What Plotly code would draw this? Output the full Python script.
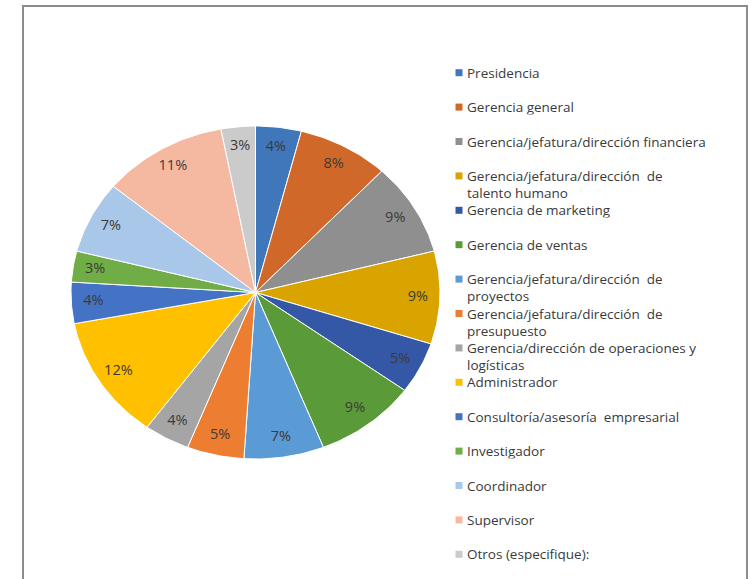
import numpy as np
import plotly.graph_objects as go

# Share of respondents by job position (percent)
categories = [
    "Presidencia",
    "Gerencia general",
    "Gerencia/jefatura/dirección financiera",
    "Gerencia/jefatura/dirección de talento humano",
    "Gerencia de marketing",
    "Gerencia de ventas",
    "Gerencia/jefatura/dirección de proyectos",
    "Gerencia/jefatura/dirección de presupuesto",
    "Gerencia/dirección de operaciones y logísticas",
    "Administrador",
    "Consultoría/asesoría empresarial",
    "Investigador",
    "Coordinador",
    "Supervisor",
    "Otros (especifique):",
]
percentages = [4, 8, 9, 9, 5, 9, 7, 5, 4, 12, 4, 3, 7, 11, 3]

# Legend text, with the line breaks used for the long entries
legend_text = [
    "Presidencia",
    "Gerencia general",
    "Gerencia/jefatura/dirección financiera",
    "Gerencia/jefatura/dirección  de<br>talento humano",
    "Gerencia de marketing",
    "Gerencia de ventas",
    "Gerencia/jefatura/dirección  de<br>proyectos",
    "Gerencia/jefatura/dirección  de<br>presupuesto",
    "Gerencia/dirección de operaciones y<br>logísticas",
    "Administrador",
    "Consultoría/asesoría  empresarial",
    "Investigador",
    "Coordinador",
    "Supervisor",
    "Otros (especifique):",
]

slice_colors = [
    "#3F77BA", "#D0682A", "#8F8F8F", "#D9A300", "#3458A6",
    "#5B9A38", "#5B9BD5", "#ED7D31", "#A5A5A5", "#FFC000",
    "#4472C4", "#70AD47", "#A9C7E9", "#F5B9A1", "#CBCBCB",
]

W, H = 751, 579
FONT = "Open Sans"
TEXT_COLOR = "#3A3A3A"
LEGEND_SIZE = 13.5

fig = go.Figure()

# Pie slices, clockwise from 12 o'clock, drawn as filled polygons
values = np.array(percentages, dtype=float)
fractions = values / values.sum()
ends = np.cumsum(fractions)
starts = ends - fractions
label_x, label_y = [], []
for i, (f0, f1) in enumerate(zip(starts, ends)):
    n = max(int((f1 - f0) * 400), 4)
    theta = 2 * np.pi * np.linspace(f0, f1, n)
    xs = np.concatenate([[0.0], np.sin(theta), [0.0]])
    ys = np.concatenate([[0.0], np.cos(theta), [0.0]])
    fig.add_trace(go.Scatter(
        x=xs, y=ys, mode="lines", fill="toself",
        fillcolor=slice_colors[i],
        line=dict(color="white", width=1),
        hoverinfo="text", text=f"{categories[i]}: {percentages[i]}%",
        showlegend=False, xaxis="x", yaxis="y",
    ))
    mid = 2 * np.pi * (f0 + f1) / 2
    label_x.append(0.88 * np.sin(mid))
    label_y.append(0.88 * np.cos(mid))

fig.add_trace(go.Scatter(
    x=label_x, y=label_y, mode="text",
    text=[f"{v}%" for v in percentages],
    textfont=dict(family=FONT, size=14.5, color=TEXT_COLOR),
    hoverinfo="skip", showlegend=False, xaxis="x", yaxis="y",
))

# Legend: colour squares on a row index axis, text as annotations
rows = list(range(len(categories)))
fig.add_trace(go.Scatter(
    x=[459] * len(rows), y=rows, mode="markers",
    marker=dict(symbol="square", size=7, color=slice_colors,
                line=dict(width=0)),
    hoverinfo="skip", showlegend=False, xaxis="x2", yaxis="y2",
))

row_top, row_step = 72.7, 34.4
line_h = 1.3 * LEGEND_SIZE
annotations = []
for i, txt in enumerate(legend_text):
    n_lines = txt.count("<br>") + 1
    shift = (n_lines - 1) * (line_h / 2) / row_step
    annotations.append(dict(
        x=466, y=i + shift, xref="x2", yref="y2",
        text=txt, showarrow=False, xanchor="left", yanchor="middle",
        align="left", valign="middle", borderpad=0,
        height=n_lines * line_h - 2,
        font=dict(family=FONT, size=LEGEND_SIZE, color=TEXT_COLOR),
    ))

fig.update_layout(
    width=W, height=H,
    margin=dict(l=0, r=0, t=0, b=0),
    paper_bgcolor="white", plot_bgcolor="rgba(0,0,0,0)",
    showlegend=False,
    annotations=annotations,
    xaxis=dict(domain=[71 / W, 440 / W], range=[-1, 1], visible=False,
               fixedrange=True),
    yaxis=dict(domain=[(H - 459) / H, (H - 126) / H], range=[-1, 1],
               visible=False, fixedrange=True),
    xaxis2=dict(domain=[0, 1], range=[0, W], visible=False, fixedrange=True),
    yaxis2=dict(domain=[0, 1],
                range=[(H - row_top) / row_step, -row_top / row_step],
                visible=False, fixedrange=True),
    shapes=[dict(
        type="rect", xref="paper", yref="paper",
        x0=23 / W, x1=747 / W, y0=-0.05, y1=(H - 6) / H,
        line=dict(color="#8C8C8C", width=2), fillcolor="rgba(0,0,0,0)",
        layer="above",
    )],
)

fig.write_html("out.html")
